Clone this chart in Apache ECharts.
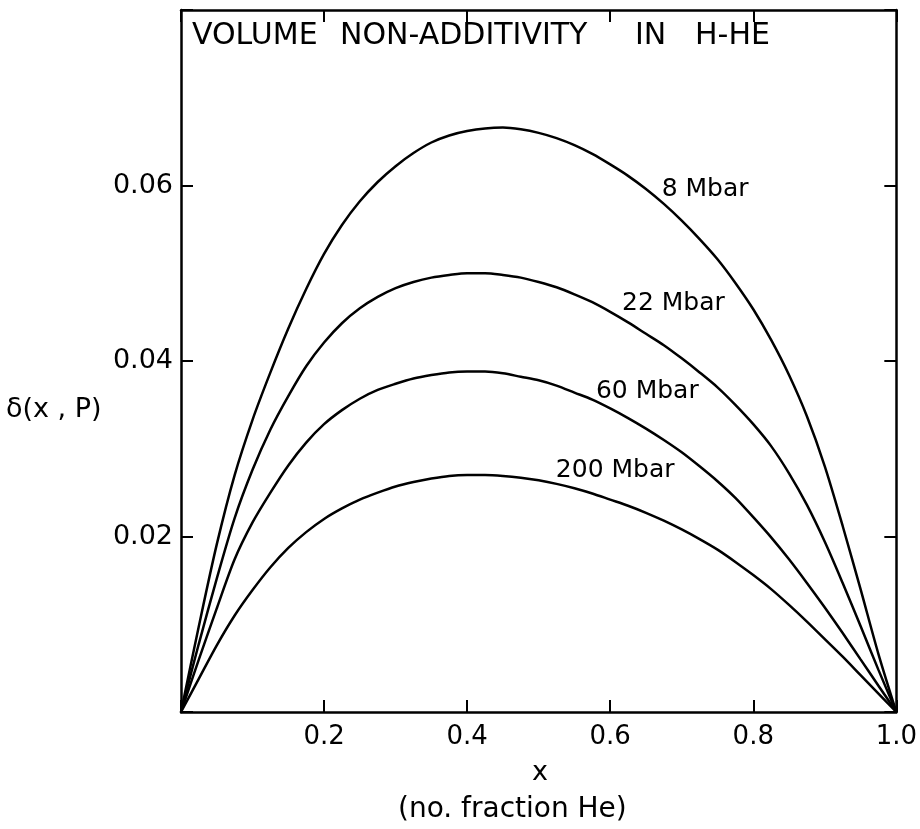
<!DOCTYPE html>
<html>
<head>
<meta charset="utf-8">
<script src="https://cdn.jsdelivr.net/npm/echarts@6/dist/echarts.min.js"></script>
<style>
html,body{margin:0;padding:0;background:#fff;}
#chart{width:920px;height:829px;}
</style>
</head>
<body>
<div id="chart"></div>
<script>
// Mole fraction of He (x)
var xs = [0, 0.025, 0.05, 0.075, 0.1, 0.125, 0.15, 0.175, 0.2, 0.225, 0.25, 0.275, 0.3, 0.325, 0.35, 0.375, 0.4, 0.425, 0.45, 0.475, 0.5,
          0.525, 0.55, 0.575, 0.6, 0.625, 0.65, 0.675, 0.7, 0.725, 0.75, 0.775, 0.8, 0.825, 0.85, 0.875, 0.9, 0.925, 0.95, 0.975, 1.0];
// delta(x,P) for each pressure
var d8   = [0, 0.0098, 0.0191, 0.0270, 0.0333, 0.0387, 0.0437, 0.0482, 0.0522, 0.0555, 0.0582, 0.0604, 0.0622, 0.0637, 0.0649, 0.0657, 0.0662, 0.0665, 0.0666, 0.0664, 0.0660,
            0.0654, 0.0646, 0.0636, 0.0624, 0.0611, 0.0596, 0.0579, 0.0560, 0.0539, 0.0516, 0.0489, 0.0459, 0.0424, 0.0384, 0.0337, 0.0280, 0.0212, 0.0140, 0.0066, 0];
var d22  = [0, 0.0078, 0.0152, 0.0221, 0.0276, 0.0322, 0.0360, 0.0394, 0.0421, 0.0443, 0.0460, 0.0473, 0.0483, 0.0490, 0.0495, 0.0498, 0.0500, 0.0500, 0.0498, 0.0495, 0.0490,
            0.0484, 0.0476, 0.0467, 0.0456, 0.0444, 0.0431, 0.0418, 0.0403, 0.0387, 0.0370, 0.0350, 0.0328, 0.0303, 0.0272, 0.0236, 0.0194, 0.0147, 0.0098, 0.0048, 0];
var d60  = [0, 0.0060, 0.0118, 0.0174, 0.0216, 0.0250, 0.0281, 0.0307, 0.0328, 0.0344, 0.0357, 0.0367, 0.0374, 0.0380, 0.0384, 0.0387, 0.0388, 0.0388, 0.0386, 0.0382, 0.0378,
            0.0372, 0.0364, 0.0356, 0.0346, 0.0335, 0.0323, 0.0310, 0.0296, 0.0280, 0.0263, 0.0244, 0.0222, 0.0199, 0.0174, 0.0147, 0.0119, 0.0090, 0.0060, 0.0030, 0];
var d200 = [0, 0.0038, 0.0076, 0.0110, 0.0139, 0.0165, 0.0187, 0.0205, 0.0220, 0.0232, 0.0242, 0.0250, 0.0257, 0.0262, 0.0266, 0.0269, 0.0270, 0.0270, 0.0269, 0.0267, 0.0264,
            0.0260, 0.0255, 0.0249, 0.0242, 0.0235, 0.0227, 0.0218, 0.0208, 0.0197, 0.0185, 0.0171, 0.0156, 0.0140, 0.0122, 0.0103, 0.0083, 0.0063, 0.0042, 0.0021, 0];
var seriesNames = ['8 Mbar', '22 Mbar', '60 Mbar', '200 Mbar'];
// curve label anchors (data coordinates)
var labelX = [0.672, 0.6165, 0.580, 0.524];
var labelY = [0.0595, 0.0466, 0.0365, 0.0275];
// tick labels
var xTickLabels = {'0.2':'0.2','0.4':'0.4','0.6':'0.6','0.8':'0.8','1':'1.0'};
var yTickLabels = {'0.02':'0.02','0.04':'0.04','0.06':'0.06'};

var FONT = 'DejaVu Sans';
var allY = [d8, d22, d60, d200];

var chart = echarts.init(document.getElementById('chart'), null, {renderer:'canvas'});

function mkSeries(i){
  var data = xs.map(function(x, k){ return [x, allY[i][k]]; });
  return {
    type:'line', name: seriesNames[i], data: data, xAxisIndex:0, yAxisIndex:0,
    showSymbol:false, smooth:0.3,
    lineStyle:{color:'#000', width:2.5},
    silent:true,
    markPoint:{
      symbol:'circle', symbolSize:0, silent:true,
      data:[{coord:[labelX[i], labelY[i]], value:seriesNames[i]}],
      label:{show:true, position:'right', distance:0, formatter: seriesNames[i],
             color:'#000', fontFamily:FONT, fontSize:25}
    }
  };
}

var tickStyle = {show:true, inside:true, length:12, lineStyle:{color:'#000', width:2}};
var lineStyle = {show:true, onZero:false, lineStyle:{color:'#000', width:2.5}};

chart.setOption({
  animation:false,
  backgroundColor:'#fff',
  grid:{left:181, right:22, top:10, bottom:117, show:false},
  xAxis:[
    {type:'value', min:0, max:1, interval:0.2, position:'bottom',
     axisLine:lineStyle, axisTick:tickStyle, splitLine:{show:false},
     axisLabel:{color:'#000', fontFamily:FONT, fontSize:26, margin:12,
       formatter:function(v){ return xTickLabels[String(+v.toFixed(2))] || ''; }}},
    {type:'value', min:0, max:1, interval:0.2, position:'top',
     axisLine:lineStyle, axisTick:tickStyle, splitLine:{show:false}, axisLabel:{show:false}}
  ],
  yAxis:[
    {type:'value', min:0, max:0.08, interval:0.02, position:'left',
     axisLine:lineStyle, axisTick:tickStyle, splitLine:{show:false},
     axisLabel:{color:'#000', fontFamily:FONT, fontSize:27, margin:8,
       formatter:function(v){ return yTickLabels[String(+v.toFixed(3))] || ''; }}},
    {type:'value', min:0, max:0.08, interval:0.02, position:'right',
     axisLine:lineStyle, axisTick:tickStyle, splitLine:{show:false}, axisLabel:{show:false}}
  ],
  graphic:[
    {type:'text', left:192, top:21, style:{text:'VOLUME', font:'30px "DejaVu Sans"', fill:'#000'}},
    {type:'text', left:340, top:21, style:{text:'NON-ADDITIVITY', font:'30px "DejaVu Sans"', fill:'#000'}},
    {type:'text', left:635, top:21, style:{text:'IN', font:'30px "DejaVu Sans"', fill:'#000'}},
    {type:'text', left:695, top:21, style:{text:'H-HE', font:'30px "DejaVu Sans"', fill:'#000'}},
    {type:'text', left:6, top:396, style:{text:'δ(x , P)', font:'27px "DejaVu Sans"', fill:'#000'}},
    {type:'text', left:532, top:759, style:{text:'x', font:'27px "DejaVu Sans"', fill:'#000'}},
    {type:'text', left:398, top:796, style:{text:'(no. fraction He)', font:'28px "DejaVu Sans"', fill:'#000'}}
  ],
  series:[mkSeries(0), mkSeries(1), mkSeries(2), mkSeries(3)]
});
</script>
</body>
</html>
